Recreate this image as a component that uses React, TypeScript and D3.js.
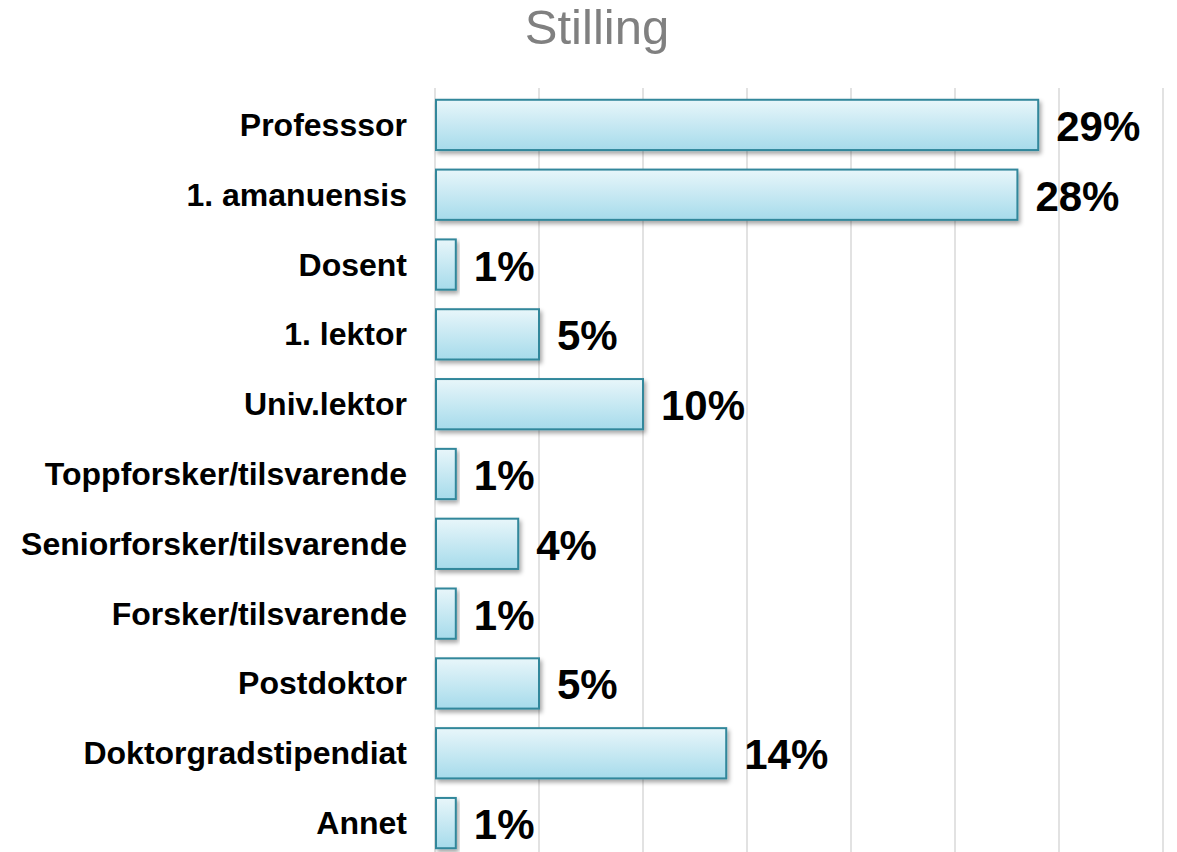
import React, { useEffect, useRef } from 'react';
import * as d3 from 'd3';

const title = "Stilling";

const categories = [
    "Professsor",
    "1. amanuensis",
    "Dosent",
    "1. lektor",
    "Univ.lektor",
    "Toppforsker/tilsvarende",
    "Seniorforsker/tilsvarende",
    "Forsker/tilsvarende",
    "Postdoktor",
    "Doktorgradstipendiat",
    "Annet",
];

const values = [29, 28, 1, 5, 10, 1, 4, 1, 5, 14, 1];

const gridTicks = [0, 5, 10, 15, 20, 25, 30, 35];

const App = () => {
    const svgRef = useRef<SVGSVGElement | null>(null);
    const width = 1177;
    const height = 852;

    useEffect(() => {
        const svg = d3.select(svgRef.current);
        svg.selectAll("*").remove();

        // Plot area
        const left = 435, right = 1163, top = 90, bottom = 858;

        const x = d3.scaleLinear().domain([0, 35]).range([left, right]);
        const y = d3.scaleBand<string>()
            .domain(categories)
            .range([top, bottom])
            .paddingInner(0.28)
            .paddingOuter(0.14);

        const defs = svg.append("defs");
        const grad = defs.append("linearGradient")
            .attr("id", "barFill")
            .attr("x1", "0%").attr("y1", "0%")
            .attr("x2", "0%").attr("y2", "100%");
        grad.append("stop").attr("offset", "0%").attr("stop-color", "#e8f6fa");
        grad.append("stop").attr("offset", "100%").attr("stop-color", "#a6dbeb");

        const shadow = defs.append("filter")
            .attr("id", "barShadow")
            .attr("x", "-10%").attr("y", "-10%")
            .attr("width", "130%").attr("height", "140%");
        shadow.append("feDropShadow")
            .attr("dx", 2).attr("dy", 3)
            .attr("stdDeviation", 2)
            .attr("flood-color", "#000")
            .attr("flood-opacity", 0.35);

        // Title
        svg.append("text")
            .attr("x", 597)
            .attr("y", 44)
            .attr("text-anchor", "middle")
            .style("font-family", "Liberation Sans, Arial, sans-serif")
            .style("font-size", "49px")
            .style("fill", "#808080")
            .text(title);

        // Vertical grid lines
        svg.append("g")
            .selectAll("line")
            .data(gridTicks)
            .enter().append("line")
            .attr("x1", d => x(d))
            .attr("x2", d => x(d))
            .attr("y1", top - 2)
            .attr("y2", height)
            .attr("stroke", "#d9d9d9")
            .attr("stroke-width", 1.5);

        // Bars
        svg.append("g")
            .selectAll("rect")
            .data(values)
            .enter().append("rect")
            .attr("x", x(0) + 1)
            .attr("y", (d, i) => y(categories[i])!)
            .attr("width", d => x(d) - x(0) - 1)
            .attr("height", y.bandwidth())
            .attr("fill", "url(#barFill)")
            .attr("stroke", "#31879b")
            .attr("stroke-width", 2)
            .attr("filter", "url(#barShadow)");

        // Category labels
        svg.append("g")
            .selectAll("text")
            .data(categories)
            .enter().append("text")
            .attr("x", 407)
            .attr("y", d => y(d)! + y.bandwidth() / 2 + 11)
            .attr("text-anchor", "end")
            .style("font-family", "Liberation Sans, Arial, sans-serif")
            .style("font-weight", "bold")
            .style("font-size", "32px")
            .style("fill", "#000")
            .text(d => d);

        // Value labels
        svg.append("g")
            .selectAll("text")
            .data(values)
            .enter().append("text")
            .attr("x", d => x(d) + 18)
            .attr("y", (d, i) => y(categories[i])! + y.bandwidth() / 2 + 16)
            .style("font-family", "Liberation Sans, Arial, sans-serif")
            .style("font-weight", "bold")
            .style("font-size", "42px")
            .style("fill", "#000")
            .text(d => `${d}%`);
    }, []);

    return (
        <svg
            ref={svgRef}
            width={width}
            height={height}
            style={{ position: 'absolute', left: 0, top: 0, background: '#fff' }}
        />
    );
};

export default App;
